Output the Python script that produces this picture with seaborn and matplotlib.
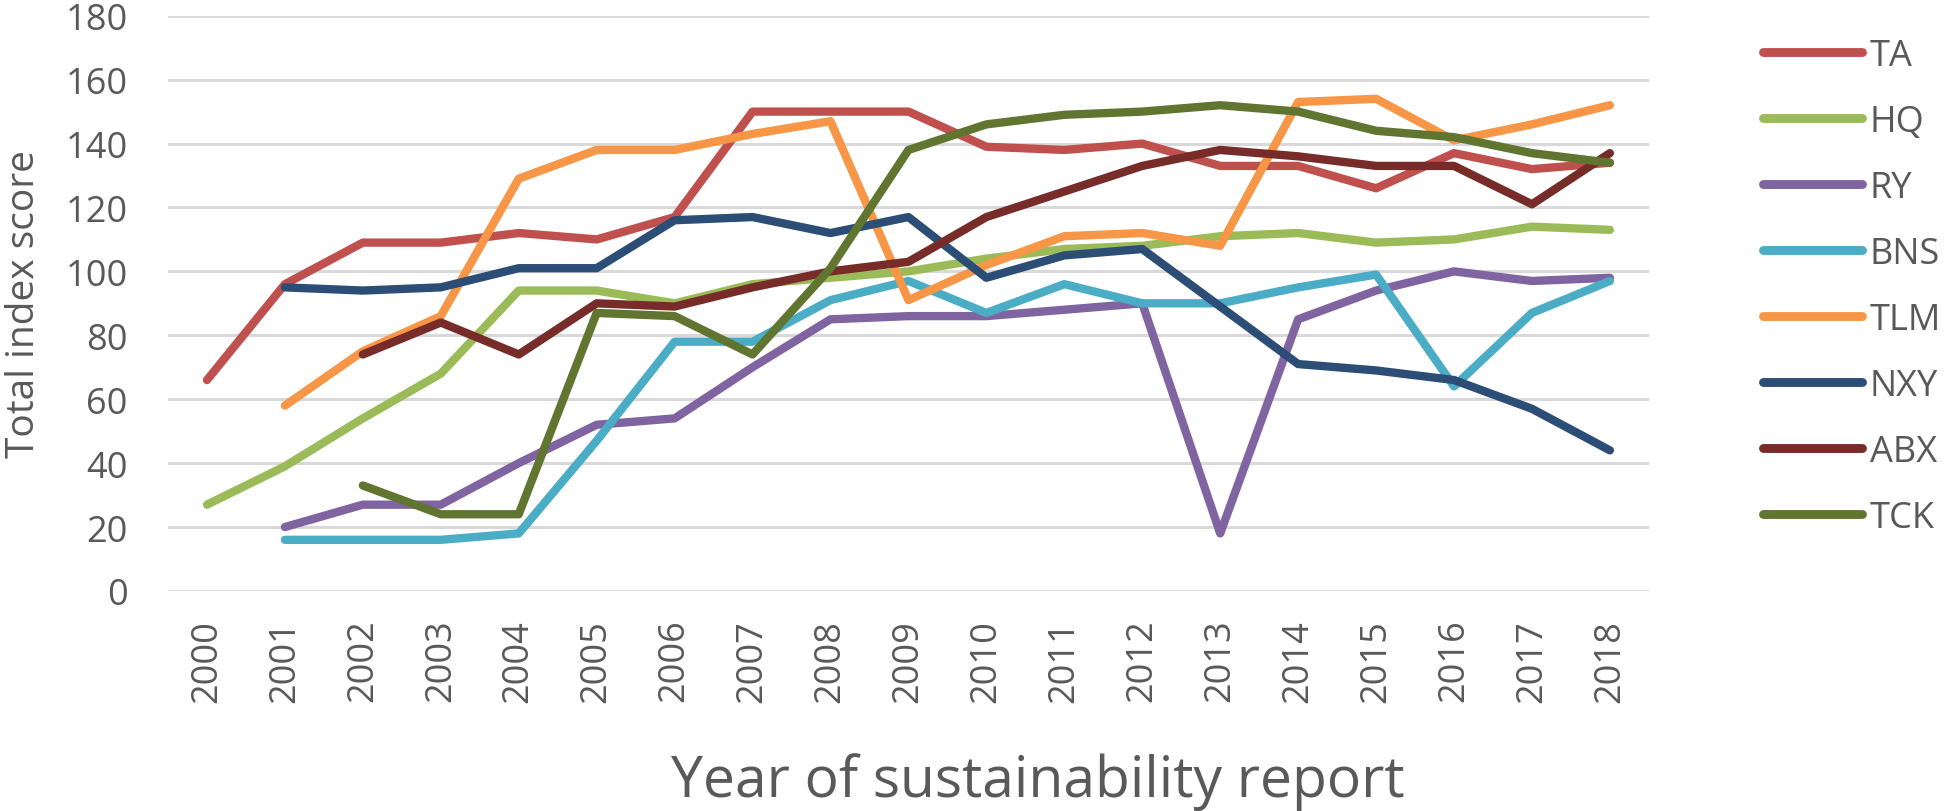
import pandas as pd
import numpy as np
import matplotlib
matplotlib.use("Agg")
import matplotlib.pyplot as plt
import seaborn as sns

# data
years = list(range(2000, 2019))
nan = np.nan
TA = [66, 96, 109, 109, 112, 110, 117, 150, 150, 150, 139, 138, 140, 133, 133, 126, 137, 132, 134]
HQ = [27, 39, 54, 68, 94, 94, 90, 96, 98, 100, 104, 107, 108, 111, 112, 109, 110, 114, 113]
RY = [nan, 20, 27, 27, 40, 52, 54, 70, 85, 86, 86, 88, 90, 18, 85, 94, 100, 97, 98]
BNS = [nan, 16, 16, 16, 18, 47, 78, 78, 91, 97, 87, 96, 90, 90, 95, 99, 64, 87, 97]
TLM = [nan, 58, 75, 86, 129, 138, 138, 143, 147, 91, 102, 111, 112, 108, 153, 154, 141, 146, 152]
NXY = [nan, 95, 94, 95, 101, 101, 116, 117, 112, 117, 98, 105, 107, 89, 71, 69, 66, 57, 44]
ABX = [nan, nan, 74, 84, 74, 90, 89, 95, 100, 103, 117, 125, 133, 138, 136, 133, 133, 121, 137]
TCK = [nan, nan, 33, 24, 24, 87, 86, 74, 101, 138, 146, 149, 150, 152, 150, 144, 142, 137, 134]

companies = ["TA", "HQ", "RY", "BNS", "TLM", "NXY", "ABX", "TCK"]
series = [TA, HQ, RY, BNS, TLM, NXY, ABX, TCK]
colors = ["#C0504D", "#9BBB59", "#8064A2", "#4BACC6", "#F79646", "#2C4D75", "#772C2A", "#5F7530"]

df = pd.DataFrame({"Year": years})
for name, vals in zip(companies, series):
    df[name] = vals
df_long = df.melt(id_vars="Year", var_name="Company", value_name="Score").dropna()

sns.set_style("white")
plt.rcParams["font.family"] = ["Open Sans", "DejaVu Sans"]
text_color = "#595959"

fig = plt.figure(figsize=(19.49, 8.12), dpi=100)
ax = fig.add_axes([0.0862, 0.271, 0.846 - 0.0862, 0.9794 - 0.271])

sns.lineplot(data=df_long, x="Year", y="Score", hue="Company", hue_order=companies,
             palette=colors, estimator=None, linewidth=6.0, ax=ax,
             solid_capstyle="round", solid_joinstyle="round")

# gridlines like Excel
ax.set_ylim(0, 180)
ax.set_yticks(range(0, 181, 20))
ax.set_xlim(1999.5, 2018.5)
ax.set_xticks(years)
ax.set_xticklabels([str(y) for y in years], rotation=90)
ax.grid(axis="y", color="#D9D9D9", linewidth=2.2)
ax.set_axisbelow(True)
for s in ax.spines.values():
    s.set_visible(False)
ax.tick_params(axis="x", length=0, labelsize=26, colors=text_color, pad=20)
ax.tick_params(axis="y", length=0, labelsize=26, colors=text_color, pad=29)

ax.set_ylabel("Total index score", fontsize=28, color=text_color)
ax.yaxis.label.set_va("center")
ax.yaxis.set_label_coords(-0.097, 0.5)
ax.set_xlabel("Year of sustainability report", fontsize=41, color=text_color)
ax.xaxis.label.set_va("baseline")
ax.xaxis.set_label_coords(0.5875, -0.356)

# legend on the right
handles, labels = ax.get_legend_handles_labels()
leg = ax.legend(handles, labels, loc="upper left", bbox_to_anchor=(0.9046, 0.952),
                bbox_transform=fig.transFigure, frameon=False, fontsize=26,
                labelspacing=0.83, handlelength=2.75, handletextpad=0.2,
                borderpad=0, borderaxespad=0)
for line in leg.get_lines():
    line.set_linewidth(6.4)
    line.set_solid_capstyle("round")
for t in leg.get_texts():
    t.set_color(text_color)

fig.savefig("out.png", dpi=100)
